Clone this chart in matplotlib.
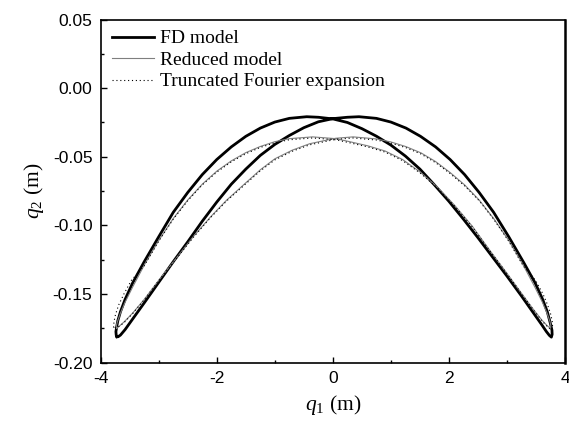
import matplotlib
matplotlib.use("Agg")
import matplotlib.pyplot as plt
from matplotlib.ticker import MultipleLocator, FormatStrFormatter

# ---------------- data ----------------
# FD model, arc with peak on the left (left tip -> right tip)
fd_a_x = [-3.720, -3.733, -3.738, -3.725, -3.705, -3.66, -3.58, -3.45, -3.25, -3.00, -2.75, -2.50,
          -2.25, -2.00, -1.75, -1.50, -1.25, -1.00, -0.75, -0.45, -0.25, 0.00, 0.25, 0.50, 0.75,
          1.00, 1.25, 1.50, 1.75, 2.00, 2.25, 2.50, 2.75, 3.00, 3.25, 3.45, 3.60, 3.68, 3.73, 3.765]
fd_a_y = [-0.1812, -0.1800, -0.1775, -0.1740, -0.1695, -0.1630, -0.1540, -0.1420, -0.1265, -0.1083,
          -0.0905, -0.0760, -0.0630, -0.0520, -0.0428, -0.0351, -0.0291, -0.0247, -0.0220, -0.0208,
          -0.0212, -0.0224, -0.0250, -0.0295, -0.0350, -0.0415, -0.0495, -0.0590, -0.0705, -0.0825,
          -0.0955, -0.1090, -0.1230, -0.1370, -0.1515, -0.1635, -0.1725, -0.1775, -0.1802, -0.1815]
# FD model, arc with peak on the right (right tip -> left tip)
fd_b_x = [3.765, 3.778, 3.775, 3.762, 3.745, 3.695, 3.615, 3.485, 3.28, 3.03, 2.77, 2.52, 2.27,
          2.02, 1.77, 1.51, 1.26, 1.00, 0.75, 0.45, 0.25, 0.00, -0.25, -0.50, -0.75, -1.00, -1.25,
          -1.50, -1.75, -2.00, -2.25, -2.50, -2.75, -3.00, -3.25, -3.45, -3.58, -3.66, -3.70, -3.72]
fd_b_y = [-0.1815, -0.1795, -0.1765, -0.1740, -0.1710, -0.1630, -0.1540, -0.1420, -0.1265, -0.1083,
          -0.0905, -0.0760, -0.0630, -0.0520, -0.0428, -0.0351, -0.0291, -0.0247, -0.0220, -0.0208,
          -0.0212, -0.0222, -0.0245, -0.0288, -0.0345, -0.0410, -0.0490, -0.0590, -0.0700, -0.0830,
          -0.0970, -0.1120, -0.1265, -0.1415, -0.1565, -0.1683, -0.1760, -0.1800, -0.1812, -0.1812]

# Reduced model
red_a_x = [-3.725, -3.730, -3.71, -3.66, -3.58, -3.45, -3.25, -3.00, -2.75, -2.50, -2.25, -2.00,
           -1.75, -1.50, -1.25, -1.00, -0.75, -0.35, 0.05, 0.30, 0.60, 0.90, 1.20, 1.50, 1.80, 2.10,
           2.40, 2.70, 3.00, 3.25, 3.45, 3.60, 3.70, 3.75]
red_a_y = [-0.1750, -0.1730, -0.1700, -0.1640, -0.1560, -0.1450, -0.1290, -0.1110, -0.0950, -0.0815,
           -0.0700, -0.0605, -0.0530, -0.0470, -0.0425, -0.0390, -0.0368, -0.0355, -0.0368, -0.0391,
           -0.0420, -0.0458, -0.0520, -0.0610, -0.0720, -0.0855, -0.1005, -0.1180, -0.1350, -0.1495,
           -0.1610, -0.1690, -0.1735, -0.1750]
red_b_x = [3.75, 3.755, 3.74, 3.69, 3.61, 3.48, 3.28, 3.03, 2.77, 2.52, 2.27, 2.02, 1.77, 1.52,
           1.26, 1.00, 0.75, 0.35, 0.05, -0.10, -0.40, -0.70, -1.00, -1.25, -1.50, -1.83, -2.10,
           -2.40, -2.70, -3.00, -3.25, -3.45, -3.60, -3.68, -3.725]
red_b_y = [-0.1750, -0.1730, -0.1700, -0.1640, -0.1560, -0.1450, -0.1290, -0.1110, -0.0950, -0.0815,
           -0.0705, -0.0615, -0.0535, -0.0472, -0.0426, -0.0392, -0.0370, -0.0355, -0.0365, -0.0378,
           -0.0405, -0.0452, -0.0515, -0.0595, -0.0690, -0.0816, -0.0935, -0.1080, -0.1240, -0.1400,
           -0.1540, -0.1640, -0.1705, -0.1735, -0.1750]

# Truncated Fourier expansion
tf_a_x = [-3.780, -3.770, -3.745, -3.69, -3.60, -3.47, -3.25, -3.00, -2.75, -2.50, -2.25, -2.00,
          -1.75, -1.50, -1.25, -1.00, -0.75, -0.35, 0.05, 0.30, 0.60, 0.90, 1.20, 1.50, 1.80, 2.10,
          2.40, 2.70, 3.00, 3.25, 3.45, 3.60, 3.70, 3.770]
tf_a_y = [-0.1745, -0.1700, -0.1650, -0.1580, -0.1500, -0.1400, -0.1295, -0.1115, -0.0955, -0.0820,
          -0.0705, -0.0612, -0.0537, -0.0478, -0.0432, -0.0398, -0.0376, -0.0363, -0.0376, -0.0399,
          -0.0428, -0.0466, -0.0528, -0.0617, -0.0726, -0.0860, -0.1010, -0.1183, -0.1352, -0.1497,
          -0.1613, -0.1695, -0.1740, -0.1765]
tf_b_x = [3.770, 3.785, 3.780, 3.755, 3.70, 3.62, 3.49, 3.28, 3.03, 2.77, 2.52, 2.27, 2.02, 1.77,
          1.52, 1.26, 1.00, 0.75, 0.35, 0.05, -0.10, -0.40, -0.70, -1.00, -1.25, -1.50, -1.83,
          -2.10, -2.40, -2.70, -3.00, -3.25, -3.45, -3.60, -3.70, -3.780]
tf_b_y = [-0.1765, -0.1735, -0.1700, -0.1650, -0.1580, -0.1500, -0.1400, -0.1295, -0.1115, -0.0955,
          -0.0820, -0.0712, -0.0622, -0.0543, -0.0480, -0.0434, -0.0400, -0.0378, -0.0363, -0.0373,
          -0.0386, -0.0413, -0.0460, -0.0523, -0.0603, -0.0697, -0.0822, -0.0940, -0.1085, -0.1244,
          -0.1403, -0.1542, -0.1643, -0.1710, -0.1742, -0.1745]

labels = ['FD model', 'Reduced model', 'Truncated Fourier expansion']

# ---------------- figure ----------------
plt.rcParams['mathtext.fontset'] = 'custom'
plt.rcParams['mathtext.rm'] = 'Liberation Serif'
plt.rcParams['mathtext.it'] = 'Liberation Serif:italic'
plt.rcParams['axes.unicode_minus'] = False

fig = plt.figure(figsize=(5.69, 4.26), dpi=100)
ax = fig.add_axes([0.177, 0.149, 0.816, 0.805])

ax.plot(fd_a_x + fd_b_x, fd_a_y + fd_b_y, color='black', lw=2.0, label=labels[0],
        solid_joinstyle='round')
ax.plot(red_a_x + red_b_x, red_a_y + red_b_y, color='#7f7f7f', lw=0.8, label=labels[1])
ax.plot(tf_a_x + tf_b_x, tf_a_y + tf_b_y, color='black', lw=0.8, linestyle=(0, (1, 2.5)),
        label=labels[2])

ax.set_xlim(-4, 4)
ax.set_ylim(-0.20, 0.05)
ax.xaxis.set_major_locator(MultipleLocator(2))
ax.xaxis.set_minor_locator(MultipleLocator(1))
ax.yaxis.set_major_locator(MultipleLocator(0.05))
ax.yaxis.set_minor_locator(MultipleLocator(0.025))
ax.yaxis.set_major_formatter(FormatStrFormatter('%.2f'))
ax.tick_params(which='both', direction='in', top=False, right=False)
ax.tick_params(which='major', length=4.5, width=1.0, pad=6, labelsize=12.5)
ax.tick_params(which='minor', length=2.5, width=1.0)
for lbl in ax.get_xticklabels() + ax.get_yticklabels():
    lbl.set_fontfamily('Liberation Sans')
for s in ax.spines.values():
    s.set_linewidth(1.2)
ax.spines['right'].set_linewidth(1.8)

ax.set_xlabel(r'$q_1$ (m)', fontsize=15.5, family='Liberation Serif', labelpad=5)
ax.set_ylabel(r'$q_2$ (m)', fontsize=15.5, family='Liberation Serif', labelpad=5)

ax.legend(loc='upper left', frameon=False, prop={'family': 'Liberation Serif', 'size': 14},
          handlelength=2.16, handletextpad=0.3, labelspacing=0.2, borderpad=0.0,
          borderaxespad=0.0, bbox_to_anchor=(0.0237, 0.970))

fig.savefig('out.png', dpi=100)
